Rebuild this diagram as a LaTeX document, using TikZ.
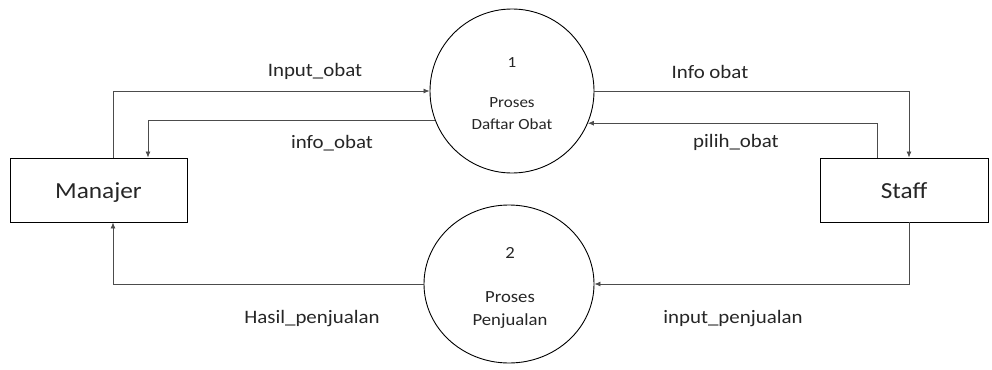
\documentclass[tikz,border=0pt]{standalone}
\usepackage{fontspec}
\setmainfont{Carlito}
\usetikzlibrary{shapes.geometric,arrows.meta}
\newcommand{\hs}[1]{\scalebox{1.1}[1]{#1}}
\begin{document}
\begin{tikzpicture}[x=1pt,y=-1pt,
  flow/.style={draw=black!70,line width=0.8pt,-{Latex[length=6pt,width=5pt]}},
  proc/.style={draw=black,line width=0.9pt,inner sep=0pt},
  ent/.style={draw=black,line width=0.9pt,minimum width=177pt,minimum height=64pt,inner sep=0pt},
  lbl/.style={anchor=base,inner sep=0pt,font=\fontsize{19}{22}\selectfont,text=black!85},
  ctx/.style={anchor=base,inner sep=0pt,text=black!85}]
\useasboundingbox (0,0) rectangle (992,369);
\node[proc,circle,minimum size=164pt] (c1) at (512,91) {};
\node[proc,ellipse,minimum width=170pt,minimum height=158pt] (c2) at (509,284) {};
\node[ent] (man) at (98.5,190) {};
\node[ent,minimum width=168pt] (staff) at (904,190) {};
\node[ctx,font=\fontsize{23}{26}\selectfont] (tman) at (98.5,198) {\hs{Manajer}};
\node[ctx,font=\fontsize{23}{26}\selectfont] (tstaff) at (904,198) {\hs{Staff}};
% process texts
\node[ctx,font=\fontsize{15.5}{18}\selectfont] (n1) at (512,67) {\hs{1}};
\node[ctx,font=\fontsize{15.5}{18}\selectfont] (p1a) at (512,107) {\hs{Proses}};
\node[ctx,font=\fontsize{15.5}{18}\selectfont] (p1b) at (512,129) {\hs{Daftar Obat}};
\node[ctx,font=\fontsize{17}{20}\selectfont] (n2) at (510,258) {\hs{2}};
\node[ctx,font=\fontsize{17}{20}\selectfont] (p2a) at (510,302) {\hs{Proses}};
\node[ctx,font=\fontsize{17}{20}\selectfont] (p2b) at (510,325) {\hs{Penjualan}};
% connectors
\draw[flow] ([xshift=14.5pt]man.north) |- (c1.west);
\draw[flow] (c1.201) -| ([xshift=49.5pt]man.north);
\draw[flow] (c1.east) -| ([xshift=5pt]staff.north);
\draw[flow] ([xshift=-27pt]staff.north) |- (c1.337);
\draw[flow] (c2.west) -| ([xshift=14.5pt]man.south);
\draw[flow] ([xshift=5pt]staff.south) |- (c2.east);
% labels
\node[lbl] (l1) at (315,77) {\hs{Input\_obat}};
\node[lbl] (l2) at (332,148) {\hs{info\_obat}};
\node[lbl] (l3) at (710,78) {\hs{Info obat}};
\node[lbl] (l4) at (736,147) {\hs{pilih\_obat}};
\node[lbl] (l5) at (312,323) {\hs{Hasil\_penjualan}};
\node[lbl] (l6) at (733,323) {\hs{input\_penjualan}};
\end{tikzpicture}
\end{document}
